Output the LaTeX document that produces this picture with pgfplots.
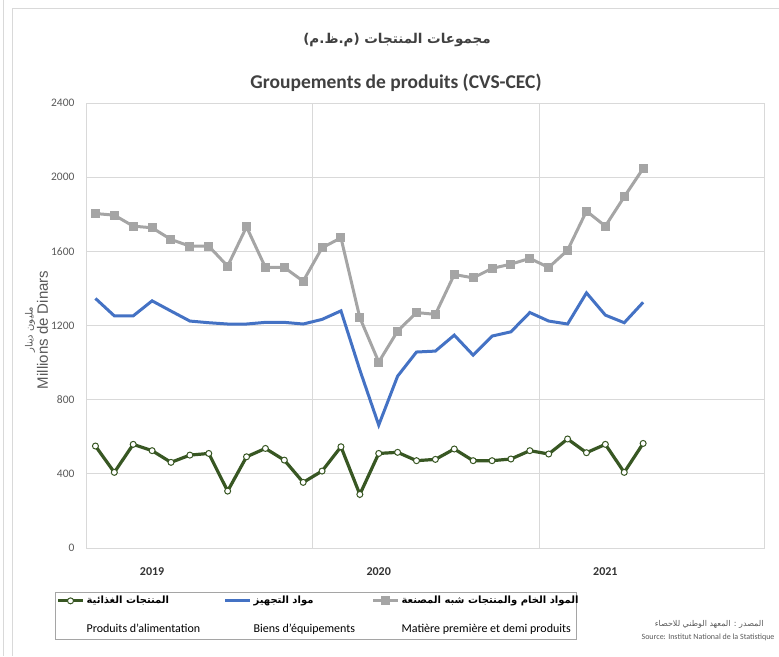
\documentclass[border=0pt]{standalone}
\usepackage{pgfplots}
\usepackage{pgfplotstable}
\pgfplotsset{compat=1.18}
\usepackage{fontspec}
\setmainfont{Carlito}
\newfontfamily\arabicfont[Script=Arabic]{DejaVu Sans}
\newfontfamily\arialfont{Liberation Sans}
\TeXXeTstate=1
\definecolor{cgreen}{HTML}{385723}
\definecolor{cblue}{HTML}{4472C4}
\definecolor{cgray}{HTML}{A5A5A5}
\definecolor{cgrid}{HTML}{D9D9D9}
\definecolor{ctext}{HTML}{595959}
\definecolor{ctitle}{HTML}{404040}

\pgfplotstableread{
x gray blue green
0 1804 1346 550
1 1795 1252 408
2 1736 1252 559
3 1727 1333 525
4 1664 1278 462
5 1628 1224 501
6 1628 1215 510
7 1520 1208 307
8 1732 1208 492
9 1513 1217 537
10 1513 1217 474
11 1439 1208 354
12 1619 1233 415
13 1673 1279 546
14 1242 960 289
15 1003 663 510
16 1170 927 516
17 1270 1057 471
18 1260 1062 478
19 1475 1148 534
20 1457 1040 471
21 1508 1143 471
22 1531 1166 480
23 1562 1270 525
24 1513 1224 507
25 1606 1208 588
26 1817 1376 514
27 1736 1256 559
28 1894 1215 408
29 2047 1325 564
}\data

\newcommand{\legcell}[3]{\makebox[#1][l]{\begin{tabular}[t]{@{}l@{}}{\arabicfont\bfseries\fontsize{10}{12}\selectfont #2}\\[17pt]\fontsize{12}{14}\selectfont #3\end{tabular}}}

\begin{document}
\begin{tikzpicture}
\useasboundingbox (0pt,0pt) rectangle (779pt,-656pt);
\draw[cgrid, line width=0.8pt] (3pt,0pt) -- (3pt,-656pt);
\draw[cgrid, line width=0.8pt] (12pt,-656pt) -- (12pt,-8pt) -- (779pt,-8pt);

\node[font=\arabicfont\bfseries\fontsize{13.5}{16}\selectfont, text=ctitle] at (397pt,-40pt) {\beginR مجموعات المنتجات (م.ظ.م)\endR};
\node[font=\bfseries\fontsize{19.5}{22}\selectfont, text=ctitle] at (396pt,-83pt) {Groupements de produits (CVS-CEC)};

\begin{axis}[
  at={(86pt,-548pt)}, anchor=south west,
  scale only axis, width=678pt, height=445pt,
  xmin=-0.5, xmax=35.4, ymin=0, ymax=2400,
  ytick={0,400,...,2400},
  xtick={3,15,27}, xticklabels={2019,2020,2021},
  extra x ticks={11.5,23.5}, extra x tick labels={},
  extra x tick style={xmajorgrids=true},
  ymajorgrids,
  major grid style={cgrid, line width=0.8pt},
  axis line style={cgrid, line width=0.8pt},
  major tick length=0pt,
  /pgf/number format/assume math mode=true,
  /pgf/number format/1000 sep={},
  yticklabel style={font=\fontsize{11.5}{13}\selectfont, text=ctext, xshift=-8pt},
  xticklabel style={font=\bfseries\fontsize{12}{14}\selectfont, text=black!80, yshift=-16pt},
  ylabel={\shortstack{{\arabicfont\fontsize{10}{12}\selectfont\beginR مليون دينار\endR}\\[-1pt]{\arialfont\fontsize{15}{17}\selectfont Millions de Dinars}}},
  ylabel style={at={(axis description cs:-0.073,0.49)}, anchor=center, text=ctext},
  legend columns=3,
  legend style={at={(axis description cs:-0.0457,-0.099)}, anchor=north west,
    draw=cgray, line width=0.8pt, inner xsep=1pt, inner ysep=1pt,
    cells={anchor=base west}, nodes={text depth=, inner sep=2pt},
    /tikz/every even column/.append style={column sep=0pt}},
  legend image code/.code={\draw[mark repeat=2,mark phase=2,#1] plot coordinates {(0pt,3pt) (12.5pt,3pt) (25pt,3pt)};},
]
\addplot[cgreen, line width=3.2pt, mark=*, mark size=3pt, mark options={fill=white, draw=cgreen, line width=1pt}] table[x=x, y=green] {\data};
\addlegendentry{\legcell{135pt}{\beginR المنتجات الغذائية\endR}{Produits d'alimentation}}
\addplot[cblue, line width=3pt] table[x=x, y=blue] {\data};
\addlegendentry{\legcell{116pt}{\beginR مواد التجهيز\endR}{Biens d'équipements}}
\addplot[cgray, line width=3pt, mark=square*, mark size=4pt, mark options={fill=cgray, draw=cgray, line width=0pt}] table[x=x, y=gray] {\data};
\addlegendentry{\legcell{172pt}{\beginR المواد الخام والمنتجات شبه المصنعة\endR}{Matière première et demi produits}}
\end{axis}

\node[anchor=east, font=\arabicfont\fontsize{8}{10}\selectfont, text=ctext] at (767pt,-624pt) {\beginR المصدر : المعهد الوطني للاحصاء\endR};
\node[anchor=east, font=\fontsize{8}{9}\selectfont, text=ctext] at (778pt,-637pt) {Source: Institut National de la Statistique};
\end{tikzpicture}
\end{document}
